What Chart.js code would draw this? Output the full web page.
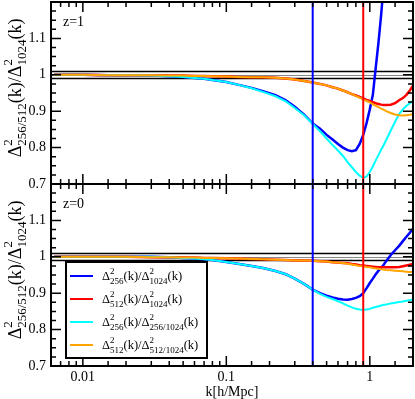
<!DOCTYPE html>
<html>
<head>
<meta charset="utf-8">
<script src="https://cdn.jsdelivr.net/npm/chart.js@4.4.1/dist/chart.umd.min.js"></script>
<style>
	html, body { margin: 0; padding: 0; background: #fff; }
	#wrap { position: relative; width: 415px; height: 399px; }
</style>
</head>
<body>
<div id="wrap"><canvas id="chart" width="415" height="399"></canvas></div>
<script>
// wavenumbers k [h/Mpc], shared by every curve
const kValues = [0.0063, 0.008, 0.01, 0.015, 0.02, 0.03, 0.04, 0.05, 0.06, 0.07, 0.08,
	0.1, 0.12, 0.15, 0.18, 0.22, 0.26, 0.3, 0.35, 0.4,
	0.45, 0.5, 0.55, 0.6, 0.65, 0.7, 0.75, 0.8, 0.85, 0.9, 0.95,
	1.0, 1.05, 1.1, 1.15, 1.2, 1.25, 1.3, 1.4, 1.5, 1.6, 1.7, 1.8, 1.9, 2.0];

// z = 1 panel
const z1Blue = [1.000, 1.000, 1.000, 0.999, 0.999, 0.998, 0.996, 0.994, 0.991, 0.989, 0.986,
	0.980, 0.973, 0.964, 0.955, 0.944, 0.930, 0.912, 0.890, 0.866,
	0.852, 0.835, 0.822, 0.810, 0.800, 0.793, 0.790, 0.793, 0.810, 0.835, 0.868,
	0.905, 0.945, 1.020, 1.090, 1.165, 1.250, 1.330, 1.500, 1.650, 1.800, 1.950, 2.100, 2.250, 2.400];
const z1Red = [1.000, 1.000, 1.000, 0.999, 0.999, 0.999, 0.998, 0.998, 0.997, 0.997, 0.996,
	0.995, 0.994, 0.993, 0.993, 0.992, 0.990, 0.987, 0.983, 0.979,
	0.975, 0.971, 0.966, 0.962, 0.957, 0.952, 0.947, 0.943, 0.939, 0.935, 0.931,
	0.928, 0.925, 0.922, 0.920, 0.918, 0.917, 0.917, 0.918, 0.922, 0.930, 0.936, 0.945, 0.957, 0.970];
const z1Cyan = [1.000, 1.000, 1.000, 0.999, 0.999, 0.998, 0.996, 0.994, 0.991, 0.989, 0.986,
	0.980, 0.973, 0.963, 0.953, 0.941, 0.927, 0.909, 0.888, 0.865,
	0.845, 0.825, 0.807, 0.792, 0.777, 0.760, 0.746, 0.733, 0.723, 0.717, 0.721,
	0.733, 0.748, 0.765, 0.780, 0.794, 0.807, 0.821, 0.847, 0.871, 0.892, 0.905, 0.915, 0.922, 0.928];
const z1Orange = [1.000, 1.000, 1.000, 0.999, 0.999, 0.999, 0.998, 0.998, 0.997, 0.997, 0.996,
	0.995, 0.994, 0.993, 0.993, 0.992, 0.990, 0.987, 0.983, 0.979,
	0.975, 0.971, 0.966, 0.962, 0.957, 0.952, 0.947, 0.942, 0.937, 0.932, 0.928,
	0.924, 0.919, 0.915, 0.911, 0.907, 0.904, 0.900, 0.895, 0.891, 0.889, 0.888, 0.889, 0.890, 0.892];

// z = 0 panel
const z0Blue = [1.000, 1.000, 1.000, 1.000, 1.000, 1.000, 0.999, 0.997, 0.995, 0.993, 0.991,
	0.986, 0.981, 0.975, 0.969, 0.961, 0.952, 0.940, 0.925, 0.910,
	0.900, 0.893, 0.888, 0.885, 0.883, 0.882, 0.884, 0.887, 0.892, 0.900, 0.914,
	0.928, 0.940, 0.952, 0.962, 0.970, 0.978, 0.988, 1.005, 1.018, 1.030, 1.043, 1.055, 1.066, 1.077];
const z0Red = [1.000, 1.000, 1.000, 1.000, 1.000, 0.999, 0.999, 0.998, 0.998, 0.997, 0.997,
	0.996, 0.995, 0.994, 0.993, 0.992, 0.991, 0.990, 0.990, 0.989,
	0.988, 0.987, 0.985, 0.984, 0.983, 0.982, 0.980, 0.979, 0.977, 0.976, 0.975,
	0.974, 0.973, 0.972, 0.971, 0.971, 0.971, 0.971, 0.971, 0.971, 0.972, 0.974, 0.976, 0.978, 0.980];
const z0Cyan = [1.000, 1.000, 1.000, 1.000, 1.000, 1.000, 0.999, 0.997, 0.995, 0.993, 0.991,
	0.986, 0.981, 0.975, 0.969, 0.961, 0.952, 0.940, 0.925, 0.910,
	0.898, 0.890, 0.884, 0.878, 0.872, 0.866, 0.861, 0.857, 0.855, 0.854, 0.855,
	0.857, 0.860, 0.862, 0.864, 0.866, 0.868, 0.869, 0.872, 0.874, 0.876, 0.877, 0.879, 0.881, 0.883];
const z0Orange = [1.000, 1.000, 1.000, 1.000, 1.000, 0.999, 0.999, 0.998, 0.998, 0.997, 0.997,
	0.996, 0.995, 0.994, 0.993, 0.992, 0.991, 0.990, 0.990, 0.989,
	0.988, 0.987, 0.985, 0.984, 0.983, 0.981, 0.979, 0.977, 0.975, 0.974, 0.972,
	0.971, 0.969, 0.968, 0.967, 0.966, 0.965, 0.964, 0.963, 0.962, 0.961, 0.960, 0.959, 0.958, 0.958];

const refLevels = [1.01, 1.0, 0.99];
const markerK = [0.4, 0.9];
const xLabelTicks = [0.01, 0.1, 1];
const yLabelTicks = [0.7, 0.8, 0.9, 1, 1.1];
const panelLabels = ['z=1', 'z=0'];

const FONT = '"Liberation Serif", "DejaVu Serif", serif';
const BLUE = '#0000ff', RED = '#ff0000', CYAN = '#00ffff', ORANGE = '#ffa500';

// rich text pieces: [text, 'n' | 'sup' | 'sub']
const yTitle = [['Δ', 'n'], ['2', 'sup'], ['256/512', 'sub'], ['(k)/Δ', 'n'], ['2', 'sup'], ['1024', 'sub'], ['(k)', 'n']];
const legendRows = [
	{ color: BLUE, parts: [['Δ', 'n'], ['2', 'sup'], ['256', 'sub'], ['(k)/Δ', 'n'], ['2', 'sup'], ['1024', 'sub'], ['(k)', 'n']] },
	{ color: RED, parts: [['Δ', 'n'], ['2', 'sup'], ['512', 'sub'], ['(k)/Δ', 'n'], ['2', 'sup'], ['1024', 'sub'], ['(k)', 'n']] },
	{ color: CYAN, parts: [['Δ', 'n'], ['2', 'sup'], ['256', 'sub'], ['(k)/Δ', 'n'], ['2', 'sup'], ['256/1024', 'sub'], ['(k)', 'n']] },
	{ color: ORANGE, parts: [['Δ', 'n'], ['2', 'sup'], ['512', 'sub'], ['(k)/Δ', 'n'], ['2', 'sup'], ['512/1024', 'sub'], ['(k)', 'n']] }
];

function points(ys) {
	return kValues.map((k, i) => ({ x: k, y: ys[i] }));
}

function line(data, color, axis, width, order) {
	return {
		data: points(data), yAxisID: axis, borderColor: color, borderWidth: width,
		pointRadius: 0, tension: 0, order: order
	};
}

// draws sub/superscripted text, returns its width
function richText(ctx, parts, x, y, big, small, draw) {
	let cx = x, supW = 0;
	for (const [t, kind] of parts) {
		ctx.font = (kind === 'n' ? big : small) + 'px ' + FONT;
		const w = ctx.measureText(t).width;
		if (kind === 'sup') {
			if (draw) ctx.fillText(t, cx, y - big * 0.48);
			supW = w;
			continue;
		}
		if (kind === 'sub') {
			if (draw) ctx.fillText(t, cx, y + big * 0.28);
			cx += Math.max(w, supW);
		} else {
			if (draw) ctx.fillText(t, cx, y);
			cx += w + supW;
		}
		supW = 0;
	}
	return cx - x;
}

const decorations = {
	id: 'decorations',
	beforeDatasetsDraw(chart) {
		const { ctx, chartArea } = chart;
		ctx.save();
		for (const id of ['yTop', 'yBot']) {
			const s = chart.scales[id];
			refLevels.forEach(v => {
				const y = Math.round(s.getPixelForValue(v)) + 0.5;
				ctx.strokeStyle = v === 1 ? '#888' : '#000';
				ctx.lineWidth = v === 1 ? 1 : 1.5;
				ctx.beginPath();
				ctx.moveTo(chartArea.left, y);
				ctx.lineTo(chartArea.right, y);
				ctx.stroke();
			});
		}
		ctx.restore();
	},
	afterDatasetsDraw(chart) {
		const { ctx, chartArea } = chart;
		const xs = chart.scales.x;
		const panels = [chart.scales.yTop, chart.scales.yBot];
		ctx.save();

		// marker lines
		markerK.forEach((k, i) => {
			const x = xs.getPixelForValue(k);
			ctx.strokeStyle = i === 0 ? BLUE : RED;
			ctx.lineWidth = 2;
			ctx.beginPath();
			ctx.moveTo(x, chartArea.top);
			ctx.lineTo(x, chartArea.bottom);
			ctx.stroke();
		});

		// frames and inward ticks
		ctx.strokeStyle = '#000';
		panels.forEach(s => {
			ctx.lineWidth = 2;
			ctx.strokeRect(chartArea.left, s.top, chartArea.right - chartArea.left, s.bottom - s.top);
			ctx.lineWidth = 1.5;
			ctx.beginPath();
			xs.ticks.forEach(t => {
				const lg = Math.log10(t.value);
				const len = Math.abs(lg - Math.round(lg)) < 1e-6 ? 10 : 5;
				const x = xs.getPixelForValue(t.value);
				if (x < chartArea.left + 1 || x > chartArea.right - 1) return;
				ctx.moveTo(x, s.top); ctx.lineTo(x, s.top + len);
				ctx.moveTo(x, s.bottom); ctx.lineTo(x, s.bottom - len);
			});
			for (let i = 1; i < 20; i++) {
				const y = s.getPixelForValue(0.7 + i * 0.025);
				const len = i % 4 === 0 ? 10 : 5;
				ctx.moveTo(chartArea.left, y); ctx.lineTo(chartArea.left + len, y);
				ctx.moveTo(chartArea.right, y); ctx.lineTo(chartArea.right - len, y);
			}
			ctx.stroke();
		});

		// panel labels and y titles
		ctx.fillStyle = '#000';
		ctx.textBaseline = 'alphabetic';
		ctx.textAlign = 'left';
		panels.forEach((s, i) => {
			ctx.font = '14px ' + FONT;
			ctx.fillText(panelLabels[i], 63, s.top + 24);
			const w = richText(ctx, yTitle, 0, 0, 18, 13, false);
			ctx.save();
			ctx.translate(21, (s.top + s.bottom) / 2 - 5);
			ctx.rotate(-Math.PI / 2);
			richText(ctx, yTitle, -w / 2, 0, 18, 13, true);
			ctx.restore();
		});

		// legend
		const box = { left: 66, top: 262, right: 207, bottom: 358 };
		ctx.fillStyle = '#fff';
		ctx.fillRect(box.left, box.top, box.right - box.left, box.bottom - box.top);
		ctx.strokeStyle = '#000';
		ctx.lineWidth = 2;
		ctx.strokeRect(box.left, box.top, box.right - box.left, box.bottom - box.top);
		legendRows.forEach((row, i) => {
			const y = 276 + i * 23;
			ctx.strokeStyle = row.color;
			ctx.lineWidth = 2;
			ctx.beginPath();
			ctx.moveTo(70, y); ctx.lineTo(93, y);
			ctx.stroke();
			ctx.fillStyle = '#000';
			richText(ctx, row.parts, 102, y + 4, 12.5, 9, true);
		});
		ctx.restore();
	}
};

function yScale(weight) {
	return {
		type: 'linear', position: 'left', stack: 'panels', stackWeight: 1, weight: weight,
		min: 0.7, max: 1.2,
		grid: { display: false, drawTicks: false },
		border: { display: false },
		ticks: {
			stepSize: 0.1, padding: 5, color: '#000', font: { family: FONT, size: 14 },
			callback: v => {
				const r = +(+v).toFixed(2);
				return yLabelTicks.includes(r) ? String(r) : '';
			}
		},
		afterFit: s => { s.width = 51; s.paddingTop = 0; s.paddingBottom = 0; }
	};
}

function main() {
	const ctx = document.getElementById('chart');
	new Chart(ctx, {
		type: 'line',
		data: {
			datasets: [
				line(z1Orange, ORANGE, 'yTop', 2, 0),
				line(z1Cyan, CYAN, 'yTop', 2, 1),
				line(z1Red, RED, 'yTop', 2.5, 2),
				line(z1Blue, BLUE, 'yTop', 2.5, 3),
				line(z0Orange, ORANGE, 'yBot', 2, 0),
				line(z0Cyan, CYAN, 'yBot', 2, 1),
				line(z0Red, RED, 'yBot', 2.5, 2),
				line(z0Blue, BLUE, 'yBot', 2.5, 3)
			]
		},
		options: {
			responsive: false,
			animation: false,
			devicePixelRatio: 1,
			layout: { padding: { top: 2, right: 2, left: 0, bottom: 0 } },
			plugins: { legend: { display: false }, tooltip: { enabled: false } },
			scales: {
				x: {
					type: 'logarithmic', min: 0.006, max: 2,
					grid: { display: false, drawTicks: false },
					border: { display: false },
					ticks: {
						autoSkip: false, maxRotation: 0, padding: 3, color: '#000',
						font: { family: FONT, size: 14 },
						callback: v => {
							const t = xLabelTicks.find(x => Math.abs(x - v) < x * 1e-6);
							return t === undefined ? '' : String(t);
						}
					},
					title: {
						display: true, text: 'k[h/Mpc]', color: '#000', padding: 0,
						font: { family: FONT, size: 14, lineHeight: 1 }
					},
					afterFit: s => { s.height = 33; s.paddingLeft = 0; s.paddingRight = 0; }
				},
				yTop: yScale(2),
				yBot: yScale(1)
			}
		},
		plugins: [decorations]
	});
}

document.addEventListener('DOMContentLoaded', main);
</script>
</body>
</html>
